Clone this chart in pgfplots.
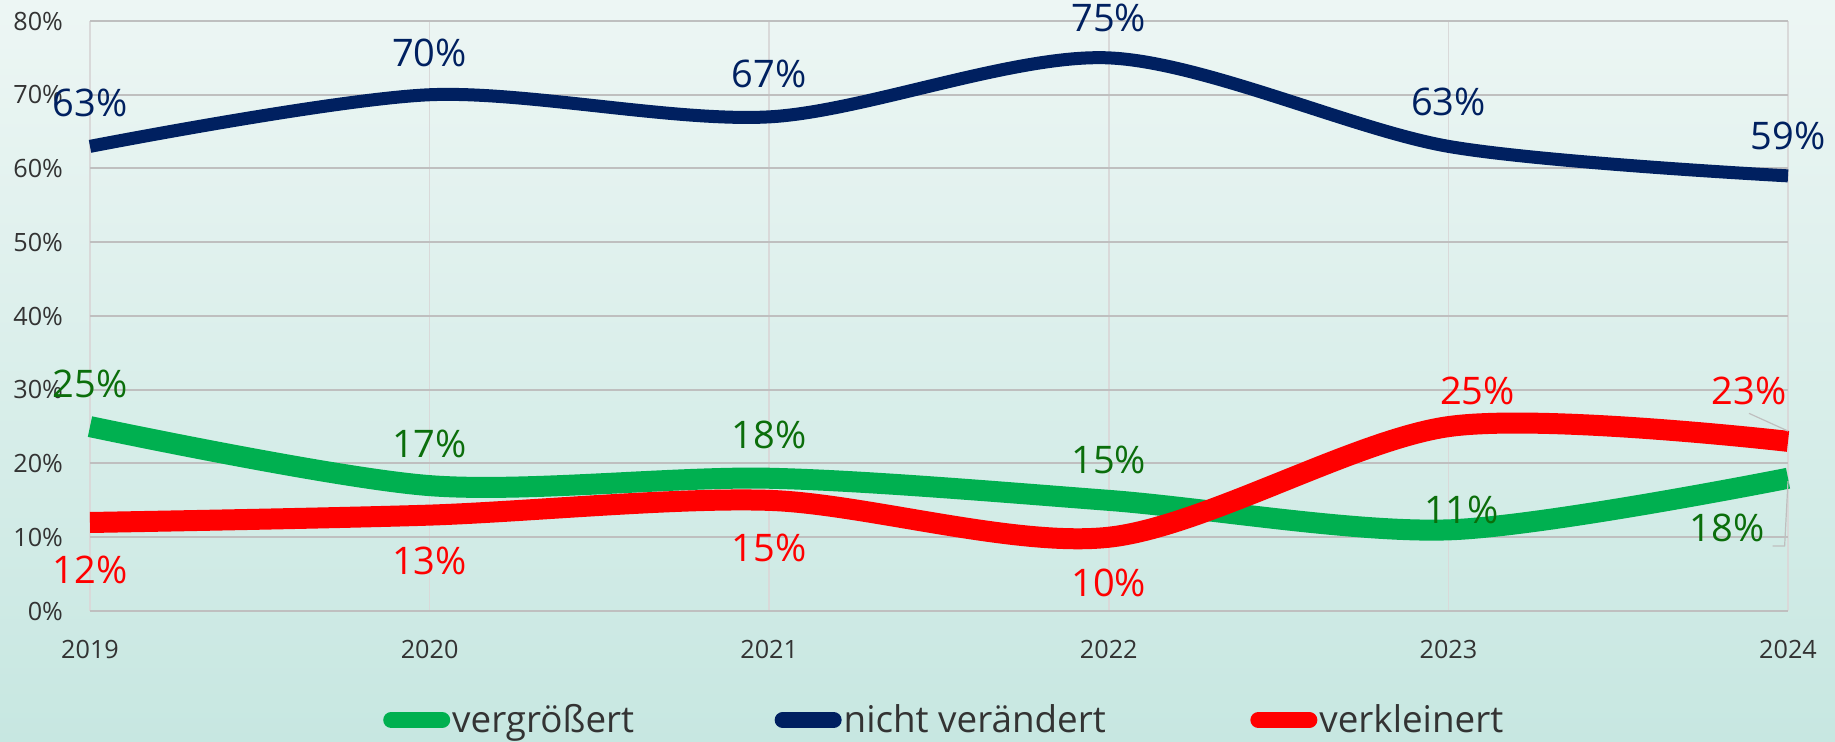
\documentclass[border=0pt]{standalone}
\usepackage{pgfplots}
\pgfplotsset{compat=1.18}
\usepackage{pgfplotstable}
\usepackage{fontspec}
\setmainfont{Open Sans}
\definecolor{cgreen}{HTML}{00B050}
\definecolor{cnavy}{HTML}{002060}
\definecolor{cred}{HTML}{FF0000}
\definecolor{lgreen}{HTML}{0B6E0B}
\definecolor{bgtop}{HTML}{EDF6F4}
\definecolor{bgbot}{HTML}{C7E7E1}
\definecolor{gridh}{HTML}{BFBFBF}
\definecolor{gridv}{HTML}{D9D9D9}
\definecolor{ticktext}{HTML}{333333}

% x, y, label dx (pt), label dy (pt)
\pgfplotstableread{
x y dx dy
0 25 0 21.5
1 17 0 21
2 18 0 21.5
3 15 0 20
4 11 6.5 10
5 18 -30.5 -25
}\tgreen
\pgfplotstableread{
x y dx dy
0 63 0 21.5
1 70 0 21
2 67 0 21.5
3 75 0 20
4 63 0 22
5 59 0 20
}\tnavy
\pgfplotstableread{
x y dx dy
0 12 0 -23.5
1 13 0 -23
2 15 0 -24
3 10 0 -23
4 25 14.5 18
5 23 -19.5 25
}\tred

\begin{document}
\begin{tikzpicture}
\shade[top color=bgtop, bottom color=bgbot] (-45pt,-65.5pt) rectangle (872.5pt,305.5pt);
\begin{axis}[
  scale only axis,
  width=849pt, height=295pt,
  xmin=0, xmax=5, ymin=0, ymax=80,
  clip=false,
  axis line style={draw=none},
  xtick={0,...,5},
  xticklabels={2019,2020,2021,2022,2023,2024},
  ytick={0,10,...,80},
  yticklabel={\pgfmathprintnumber{\tick}\%},
  /pgf/number format/assume math mode=true,
  major tick length=0pt,
  ymajorgrids, xmajorgrids,
  y grid style={gridh, line width=1pt},
  x grid style={gridv, line width=0.8pt},
  tick label style={font=\fontsize{12.6}{14}\selectfont, text=ticktext},
  yticklabel style={xshift=-10pt},
  xticklabel style={yshift=-11pt},
  nodes near coords={\pgfplotspointmeta\%},
  point meta=explicit symbolic,
  visualization depends on={\thisrow{dx} \as \dx},
  visualization depends on={\thisrow{dy} \as \dy},
  every node near coord/.append style={anchor=center, xshift=\dx pt, yshift=\dy pt, font=\fontsize{19}{22}\selectfont, inner sep=0pt},
  legend columns=3,
  legend style={draw=none, fill=none, at={(0.5,-54.5pt)}, anchor=center,
    font=\fontsize{18.4}{22}\selectfont, text=ticktext,
    /tikz/every odd column/.append style={column sep=0pt},
    /tikz/every even column/.append style={column sep=66pt},
    nodes={inner xsep=1pt}},
  legend cell align=left,
  legend image code/.code={
    \draw[#1, line width=8pt, line cap=round] (0pt,0pt) -- (25.5pt,0pt);
    \path (-4pt,0pt) (24pt,0pt);
  },
]
\addplot[cgreen, line width=10.5pt, line cap=butt, smooth, tension=0.5,
  every node near coord/.append style={text=lgreen}]
  table[x=x, y=y, meta index=1] {\tgreen};
\addlegendentry{vergrößert}
\addplot[cnavy, line width=6.5pt, line cap=butt, smooth, tension=0.5,
  every node near coord/.append style={text=cnavy}]
  table[x=x, y=y, meta index=1] {\tnavy};
\addlegendentry{nicht verändert}
\addplot[cred, line width=10.5pt, line cap=butt, smooth, tension=0.5,
  every node near coord/.append style={text=cred}]
  table[x=x, y=y, meta index=1] {\tred};
\addlegendentry{verkleinert}
\draw[gridh, line width=0.6pt] (axis cs:4.885,26.8) -- (axis cs:5,24.4);
\draw[gridh, line width=0.6pt] (axis cs:4.955,8.8) -- (axis cs:4.99,8.8) -- (axis cs:5,17.6);
\end{axis}
\pgfresetboundingbox
\path[use as bounding box] (-45pt,-65.5pt) rectangle (872.5pt,305.5pt);
\end{tikzpicture}
\end{document}
